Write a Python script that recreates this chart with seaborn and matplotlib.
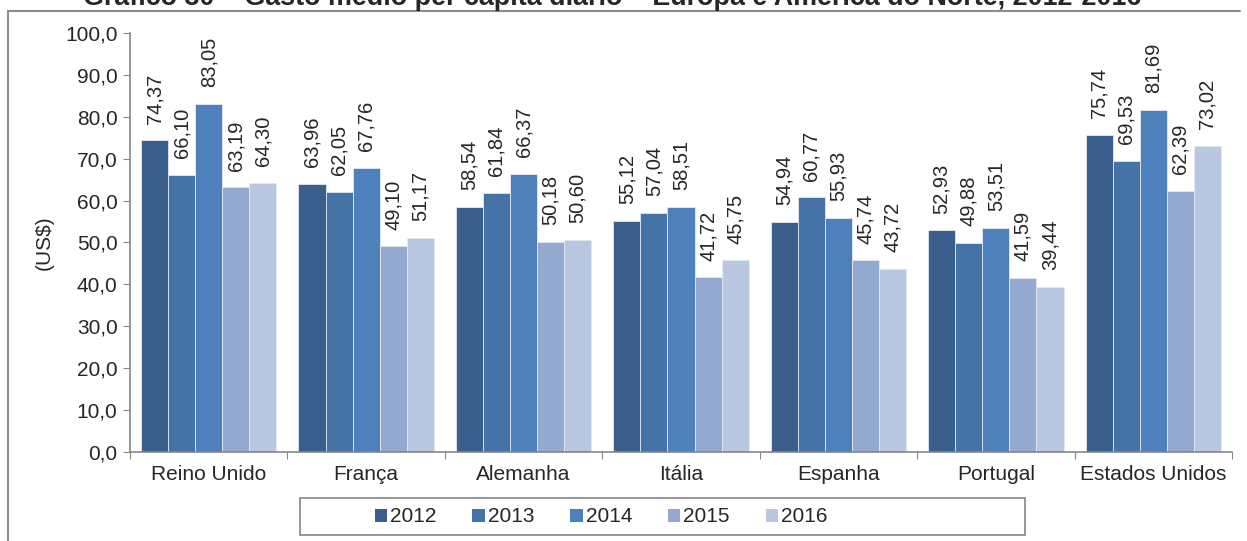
import matplotlib
matplotlib.use("Agg")
import matplotlib.pyplot as plt
from matplotlib.patches import Rectangle, Patch
from matplotlib.lines import Line2D
from matplotlib.ticker import FixedLocator, FuncFormatter
import seaborn as sns
import pandas as pd

# dados (US$ por dia)
paises = ["Reino Unido", "França", "Alemanha", "Itália", "Espanha", "Portugal", "Estados Unidos"]
anos = ["2012", "2013", "2014", "2015", "2016"]
v2012 = [74.37, 63.96, 58.54, 55.12, 54.94, 52.93, 75.74]
v2013 = [66.10, 62.05, 61.84, 57.04, 60.77, 49.88, 69.53]
v2014 = [83.05, 67.76, 66.37, 58.51, 55.93, 53.51, 81.69]
v2015 = [63.19, 49.10, 50.18, 41.72, 45.74, 41.59, 62.39]
v2016 = [64.30, 51.17, 50.60, 45.75, 43.72, 39.44, 73.02]
cores = ["#3A5F8C", "#4572A7", "#4E80BC", "#94A9D0", "#BAC7E0"]

series = [v2012, v2013, v2014, v2015, v2016]
linhas = []
for ano, vals in zip(anos, series):
    for p, v in zip(paises, vals):
        linhas.append({"pais": p, "ano": ano, "valor": v})
df = pd.DataFrame(linhas)

sns.set_style("white")
plt.rcParams["font.family"] = ["Liberation Sans", "DejaVu Sans"]
plt.rcParams["font.size"] = 15

W, H = 1247, 541
fig = plt.figure(figsize=(W / 100, H / 100), dpi=100)
ax = fig.add_axes([130 / W, 1 - 452 / H, (1232 - 130) / W, (452 - 33) / H])

sns.barplot(data=df, x="pais", y="valor", hue="ano", palette=cores,
            width=0.86, gap=0, ax=ax, edgecolor="#e3e9f2", linewidth=0.6,
            saturation=1, err_kws={"linewidth": 0})

for cont, vals in zip(ax.containers, series):
    ax.bar_label(cont, labels=[f"{v:.2f}".replace(".", ",") for v in vals],
                 rotation=90, padding=12, fontsize=14.5)

ax.set_ylim(0, 100)
ax.set_xlim(-0.5, len(paises) - 0.5)
ax.set_yticks(range(0, 101, 10))
ax.yaxis.set_major_formatter(FuncFormatter(lambda v, _: f"{v:.1f}".replace(".", ",")))
ax.tick_params(axis="y", left=True, length=5, color="#868686", labelsize=15, pad=4)

# ticks nas fronteiras das categorias, rótulos no centro
ax.xaxis.set_major_locator(FixedLocator([i - 0.5 for i in range(len(paises) + 1)]))
ax.xaxis.set_minor_locator(FixedLocator(list(range(len(paises)))))
ax.set_xticklabels([], minor=False)
ax.set_xticklabels(paises, minor=True)
ax.tick_params(axis="x", which="major", bottom=True, length=5, color="#868686")
ax.tick_params(axis="x", which="minor", bottom=True, length=0, labelsize=15, pad=9)

ax.set_xlabel("")
ax.set_ylabel("(US$)", fontsize=15, labelpad=8)
for s in ["top", "right"]:
    ax.spines[s].set_visible(False)
for s in ["left", "bottom"]:
    ax.spines[s].set_color("#868686")
    ax.spines[s].set_linewidth(1.2)

# legenda
ax.legend_.remove()
handles = [Patch(facecolor=c, edgecolor="none") for c in cores]
fig.legend(handles, anos, loc="center left", bbox_to_anchor=(356 / W, 1 - 517 / H),
           ncol=5, frameon=False, fontsize=15, handlelength=0.6, handleheight=0.6,
           handletextpad=0.15, columnspacing=1.71)
fig.add_artist(Rectangle((300 / W, 1 - 535 / H), 725 / W, 37 / H, transform=fig.transFigure,
                         fill=False, edgecolor="#868686", linewidth=1.2))

# moldura do gráfico e título cortado
fig.add_artist(Line2D([8 / W, 1240 / W], [1 - 11 / H, 1 - 11 / H], transform=fig.transFigure,
                      color="#8c8c8c", linewidth=1.5))
fig.add_artist(Line2D([8 / W, 8 / W], [1 - 11 / H, 0], transform=fig.transFigure,
                      color="#8c8c8c", linewidth=1.5))
fig.text(612 / W, 1 - 5 / H, "Gráfico 30 – Gasto médio per capita diário – Europa e América do Norte, 2012-2016",
         ha="center", va="baseline", fontsize=19.4, fontweight="bold")

fig.savefig("out.png", dpi=100)
